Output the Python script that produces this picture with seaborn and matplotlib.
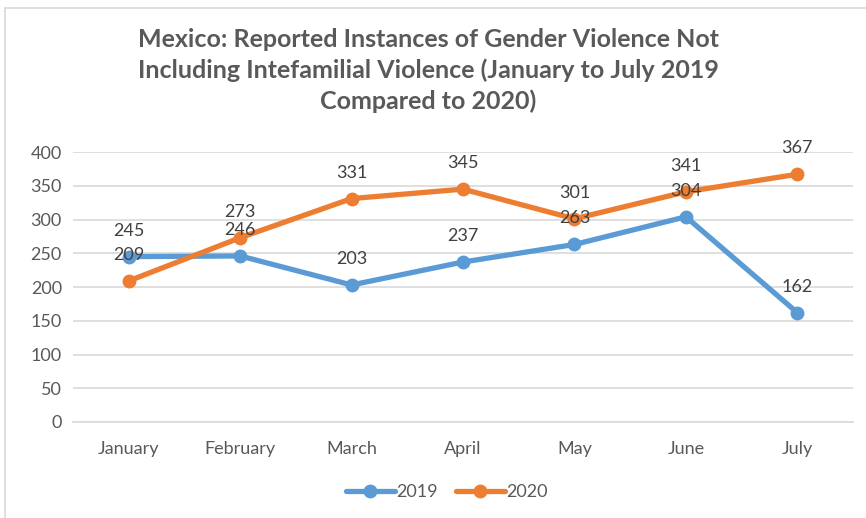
import matplotlib
matplotlib.use("Agg")
import matplotlib.pyplot as plt
import seaborn as sns
import pandas as pd
from matplotlib.lines import Line2D

months = ["January", "February", "March", "April", "May", "June", "July"]
values_2019 = [245, 246, 203, 237, 263, 304, 162]
values_2020 = [209, 273, 331, 345, 301, 341, 367]
series_names = ["2019", "2020"]
yticks = [0, 50, 100, 150, 200, 250, 300, 350, 400]

df = pd.DataFrame({
    "Month": months * 2,
    "Count": values_2019 + values_2020,
    "Year": [series_names[0]] * len(months) + [series_names[1]] * len(months),
})

sns.set_theme(style="white")
plt.rcParams["font.family"] = ["Lato", "DejaVu Sans"]

W, H = 866, 518
fig = plt.figure(figsize=(W / 100, H / 100), dpi=100)
ax = fig.add_axes([73 / W, 1 - 422 / H, (853 - 73) / W, (422 - 152) / H])

palette = {"2019": "#5B9BD5", "2020": "#ED7D31"}
sns.lineplot(data=df, x="Month", y="Count", hue="Year", palette=palette,
             marker="o", markersize=10, markeredgewidth=0, linewidth=3.8,
             sort=False, ax=ax, legend=False)

ax.set_ylim(0, 400)
ax.set_xlim(-0.5, len(months) - 0.5)
ax.set_yticks(yticks)
ax.set_yticklabels([str(t) for t in yticks])
ax.yaxis.grid(True, color="#D9D9D9", linewidth=1.2)
ax.set_axisbelow(True)
for s in ["top", "right", "left"]:
    ax.spines[s].set_visible(False)
ax.spines["bottom"].set_color("#D9D9D9")
ax.spines["bottom"].set_linewidth(1.2)
ax.tick_params(axis="both", length=0, labelsize=13, colors="#595959", pad=8)
ax.tick_params(axis="x", pad=14)
ax.set_xlabel("")
ax.set_ylabel("")

for vals in (values_2019, values_2020):
    for i, v in enumerate(vals):
        ax.annotate(str(v), (i, v), xytext=(0, 13), textcoords="offset points",
                    ha="center", va="bottom", fontsize=13, color="#404040",
                    annotation_clip=False)

fig.suptitle("Mexico: Reported Instances of Gender Violence Not\n"
             "Including Intefamilial Violence (January to July 2019\n"
             "Compared to 2020)", x=428 / W, y=1 - 28 / H, va="top",
             fontsize=18, fontweight="bold", color="#595959", linespacing=1.38)

handles = [Line2D([0], [0], color=palette[n], lw=3.8, marker="o", markersize=10,
                  markeredgewidth=0, solid_capstyle="round") for n in series_names]
fig.legend(handles, series_names, loc="center", bbox_to_anchor=(447 / W, 1 - 492 / H),
           ncol=2, frameon=False, fontsize=13, labelcolor="#595959",
           handlelength=2.7, handletextpad=0.1, columnspacing=1.0)

fig.add_artist(Line2D([5 / W, 1], [1 - 8 / H, 1 - 8 / H], color="#D9D9D9", lw=1.2,
                      transform=fig.transFigure))
fig.add_artist(Line2D([5 / W, 5 / W], [0, 1 - 8 / H], color="#D9D9D9", lw=1.2,
                      transform=fig.transFigure))

fig.savefig("out.png", dpi=100)
